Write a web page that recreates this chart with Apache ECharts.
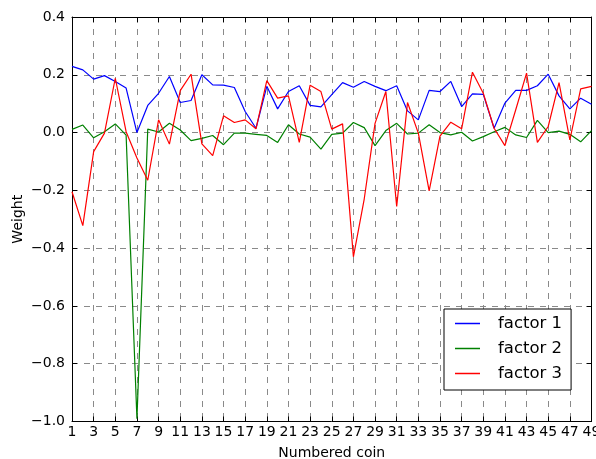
<!DOCTYPE html>
<html>
<head>
<meta charset="utf-8">
<script src="https://cdn.jsdelivr.net/npm/echarts@6/dist/echarts.min.js"></script>
<style>
html,body{margin:0;padding:0;background:#fff;}
#chart{width:596px;height:459px;}
</style>
</head>
<body>
<div id="chart"></div>
<script>
var coins = [];
for (var i = 1; i <= 49; i++) coins.push(String(i));

var factor1 = [0.229,0.217,0.185,0.197,0.177,0.154,0.000,0.094,0.136,0.194,
               0.104,0.111,0.200,0.165,0.164,0.156,0.073,0.015,0.160,0.082,
               0.142,0.162,0.094,0.089,0.131,0.173,0.157,0.177,0.160,0.145,
               0.162,0.075,0.044,0.146,0.142,0.177,0.090,0.134,0.132,0.015,
               0.102,0.146,0.146,0.162,0.202,0.127,0.082,0.119,0.098];
var factor2 = [0.011,0.026,-0.018,0.003,0.030,-0.009,-0.990,0.012,0.002,0.032,
               0.009,-0.028,-0.020,-0.010,-0.042,-0.002,-0.002,-0.006,-0.010,-0.034,
               0.027,-0.005,-0.016,-0.057,-0.006,-0.002,0.035,0.017,-0.045,0.007,
               0.032,-0.005,-0.002,0.027,0.000,-0.008,0.001,-0.029,-0.014,0.003,
               0.018,-0.008,-0.017,0.042,0.000,0.005,-0.006,-0.032,0.007];
var factor3 = [-0.205,-0.322,-0.066,-0.002,0.188,0.003,-0.088,-0.165,0.044,-0.040,
               0.145,0.202,-0.039,-0.080,0.058,0.035,0.044,0.013,0.180,0.119,
               0.127,-0.034,0.164,0.142,0.012,0.030,-0.430,-0.230,0.032,0.142,
               -0.256,0.104,-0.002,-0.202,-0.012,0.036,0.013,0.209,0.136,0.015,
               -0.045,0.079,0.206,-0.034,0.021,0.173,-0.025,0.151,0.160];
var seriesNames = ['factor 1','factor 2','factor 3'];

var FONT = 'DejaVu Sans';
var chart = echarts.init(document.getElementById('chart'), null, {renderer:'canvas'});

function yfmt(v){
  if (Math.abs(v) < 1e-9) return '0.0';
  return (v < 0 ? '\u2212' : '') + Math.abs(v).toFixed(1);
}
var gridLine = {show:true, lineStyle:{color:'#8a8a8a', width:1, type:[6,6]}};
var axLine = {show:true, onZero:false, lineStyle:{color:'#000', width:1}};

var option = {
  animation:false,
  backgroundColor:'#fff',
  grid:{left:72, right:4.5, top:17, bottom:37.5, containLabel:false, outerBoundsMode:'none'},
  legend:{
    orient:'vertical',
    left:444, top:309,
    data:seriesNames,
    backgroundColor:'#fff',
    borderColor:'#000', borderWidth:1, borderRadius:0,
    padding:[6,9,8,11],
    icon:'rect', itemWidth:25, itemHeight:1.5, itemGap:8,
    textStyle:{fontFamily:FONT, fontSize:16.5, color:'#000', lineHeight:16, padding:[0,0,0,13]}
  },
  xAxis:[{
    type:'category', data:coins, boundaryGap:false, position:'bottom',
    name:'Numbered coin', nameLocation:'middle', nameGap:24.5, nameMoveOverlap:false,
    nameTextStyle:{fontFamily:FONT, fontSize:14, color:'#000'},
    axisLine:axLine,
    axisTick:{show:true, inside:true, length:5, interval:1, lineStyle:{color:'#000'}},
    axisLabel:{interval:1, margin:4, fontFamily:FONT, fontSize:14, color:'#000'},
    splitLine:Object.assign({interval:1}, gridLine)
  },{
    type:'category', data:coins, boundaryGap:false, position:'top',
    axisLine:axLine,
    axisTick:{show:true, inside:true, length:5, interval:1, lineStyle:{color:'#000'}},
    axisLabel:{show:false}, splitLine:{show:false}
  }],
  yAxis:[{
    type:'value', min:-1.0, max:0.4, interval:0.2, position:'left',
    name:'Weight', nameLocation:'middle', nameGap:46.5, nameMoveOverlap:false,
    nameTextStyle:{fontFamily:FONT, fontSize:14, color:'#000'},
    axisLine:axLine,
    axisTick:{show:true, inside:true, length:5, lineStyle:{color:'#000'}},
    axisLabel:{margin:7, fontFamily:FONT, fontSize:14, color:'#000', formatter:yfmt},
    splitLine:gridLine
  },{
    type:'value', min:-1.0, max:0.4, interval:0.2, position:'right',
    axisLine:axLine,
    axisTick:{show:true, inside:true, length:5, lineStyle:{color:'#000'}},
    axisLabel:{show:false}, splitLine:{show:false}
  }],
  series:[
    {name:seriesNames[0], type:'line', data:factor1, color:'#0000ff', showSymbol:false, symbol:'none',
     lineStyle:{width:1.2, color:'#0000ff'}, z:3},
    {name:seriesNames[1], type:'line', data:factor2, color:'#008000', showSymbol:false, symbol:'none',
     lineStyle:{width:1.2, color:'#008000'}, z:3},
    {name:seriesNames[2], type:'line', data:factor3, color:'#ff0000', showSymbol:false, symbol:'none',
     lineStyle:{width:1.2, color:'#ff0000'}, z:3}
  ]
};
chart.setOption(option);
</script>
</body>
</html>
